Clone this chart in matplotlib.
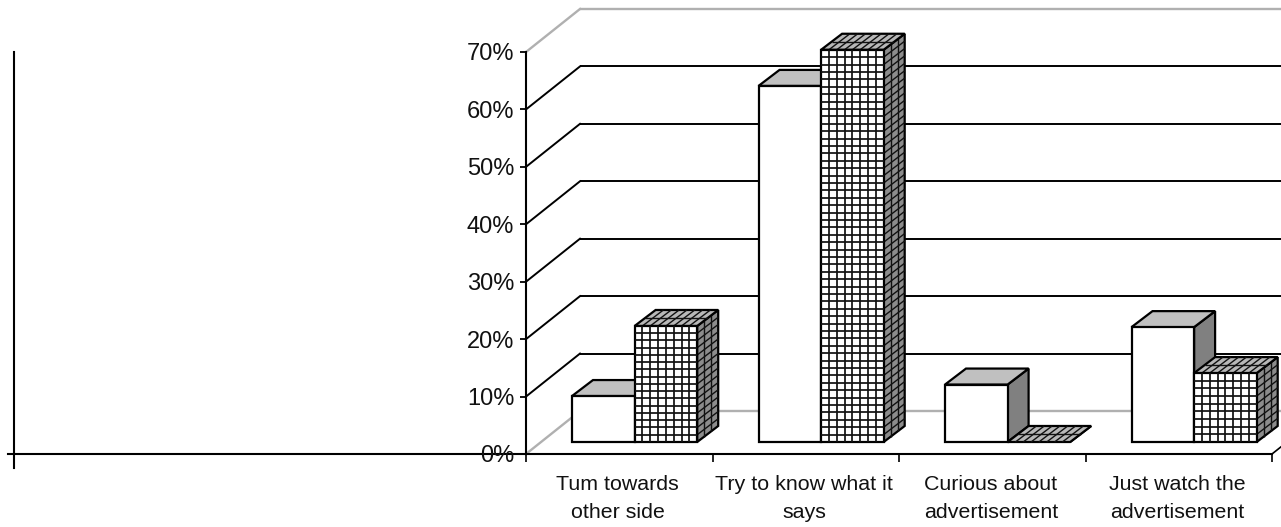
#!/usr/bin/env python
# clustered pseudo-3D bars, two series, on a wall with percent gridlines
import matplotlib
matplotlib.use("Agg")
import matplotlib.pyplot as plt
from matplotlib.patches import Polygon

categories = ["Tum towards\nother side", "Try to know what it\nsays",
              "Curious about\nadvertisement", "Just watch the\nadvertisement"]
plain_values = [8, 62, 10, 20]
grid_values = [20.2, 68.3, 0, 12]
ytick_values = [0, 10, 20, 30, 40, 50, 60, 70]
ytick_labels = ["0%", "10%", "20%", "30%", "40%", "50%", "60%", "70%"]

W, H = 1281, 527
PX_X = 186.5        # pixels per category
PX_Y = 5.74         # pixels per percent

# depth of the wall and of the bars, in data units
wall_dx = 54 / PX_X
wall_dy = 43 / PX_Y
bar_dx = 21 / PX_X
bar_dy = 16 / PX_Y
bar_base = 12 / PX_Y
bar_left = 46 / PX_X
bar_w = 62.6 / PX_X
cell_y = 7.4 / PX_Y

plt.rcParams['font.family'] = ['Liberation Sans', 'DejaVu Sans']

fig = plt.figure(figsize=(W / 100, H / 100), dpi=100)
ax = fig.add_axes([526 / W, 1 - 454 / H, 746 / W, 402 / H])
ax.set_xlim(0, 4)
ax.set_ylim(0, 70)
ax.patch.set_visible(False)
for side in ('top', 'right'):
    ax.spines[side].set_visible(False)
for side in ('left', 'bottom'):
    ax.spines[side].set_linewidth(1.5)
    ax.spines[side].set_zorder(1)

ax.set_yticks(ytick_values)
ax.set_yticklabels(ytick_labels, fontsize=17, color='#111111')
ax.set_xticks(range(5))
ax.set_xticklabels([])
ax.tick_params(axis='y', length=4.5, width=1.3, pad=4)
ax.tick_params(axis='x', length=6, width=1.2)

for i, label in enumerate(categories):
    ax.annotate(label, (i + 0.5, 0), xytext=(-1, -15), textcoords='offset points',
                ha='center', va='top', fontsize=15.4, linespacing=1.6, color='#111111')

# wall gridlines and their diagonals on the side wall
x_edge = 4.05
for v in ytick_values:
    col = '#b0b0b0' if v in (0, 70) else 'black'
    lw = 1.7 if v in (0, 70) else 1.4
    ax.plot([wall_dx, x_edge], [v + wall_dy, v + wall_dy], color=col, lw=lw,
            clip_on=False, zorder=0.5, solid_capstyle='butt')
    ax.plot([0, wall_dx], [v, v + wall_dy], color=col, lw=lw,
            clip_on=False, zorder=0.5)
ax.plot([4, x_edge], [0, 0.05 / wall_dx * wall_dy], color='black', lw=1.2,
        clip_on=False, zorder=0.5)

# left over axis lines at the far left
ax.plot([-518 / PX_X, 0], [0, 0], color='black', lw=1.5, clip_on=False, zorder=1)
ax.plot([-512 / PX_X] * 2, [-14 / PX_Y, 402 / PX_Y], color='black', lw=1.5,
        clip_on=False, zorder=1)


def face(corners, fc, z):
    ax.add_patch(Polygon(corners, closed=True, fc=fc, ec='black', lw=1.6,
                         joinstyle='miter', clip_on=False, zorder=z))


def lattice(origin, u, v, n_u, n_v, z, lw=1.25):
    # grid of lines over the parallelogram origin, origin+u, origin+v
    x0, y0 = origin
    for k in range(1, n_u):
        f = k / n_u
        ax.plot([x0 + f * u[0], x0 + f * u[0] + v[0]],
                [y0 + f * u[1], y0 + f * u[1] + v[1]],
                color='#111111', lw=lw, clip_on=False, zorder=z, solid_capstyle='butt')
    for k in range(1, n_v):
        f = k / n_v
        ax.plot([x0 + f * v[0], x0 + f * v[0] + u[0]],
                [y0 + f * v[1], y0 + f * v[1] + u[1]],
                color='#111111', lw=lw, clip_on=False, zorder=z, solid_capstyle='butt')


def draw_bar(x, value, z, patterned):
    y0 = bar_base
    y1 = bar_base + value
    side = '#808080'
    top = '#c0c0c0'
    if patterned:
        side = '#8c8c8c'
        top = '#b8b8b8'
    # side, top, front
    face([(x + bar_w, y0), (x + bar_w + bar_dx, y0 + bar_dy),
          (x + bar_w + bar_dx, y1 + bar_dy), (x + bar_w, y1)], side, z)
    if patterned and value > 0:
        lattice((x + bar_w, y0), (bar_dx, bar_dy), (0, value), 3,
                max(int(round(value / cell_y)), 1), z + 0.01, lw=1.0)
    face([(x, y1), (x + bar_w, y1), (x + bar_w + bar_dx, y1 + bar_dy),
          (x + bar_dx, y1 + bar_dy)], top, z + 0.1)
    if patterned:
        lattice((x, y1), (bar_w, 0), (bar_dx, bar_dy), 8, 2, z + 0.11, lw=1.0)
    if value > 0:
        face([(x, y0), (x + bar_w, y0), (x + bar_w, y1), (x, y1)], 'white', z + 0.2)
        if patterned:
            lattice((x, y0), (bar_w, 0), (0, value), 8,
                    max(int(round(value / cell_y)), 1), z + 0.21)


for i in range(len(categories)):
    x = i + bar_left
    draw_bar(x, plain_values[i], 2 + i, False)
    draw_bar(x + bar_w, grid_values[i], 2.5 + i, True)

fig.savefig("out.png", dpi=100)
